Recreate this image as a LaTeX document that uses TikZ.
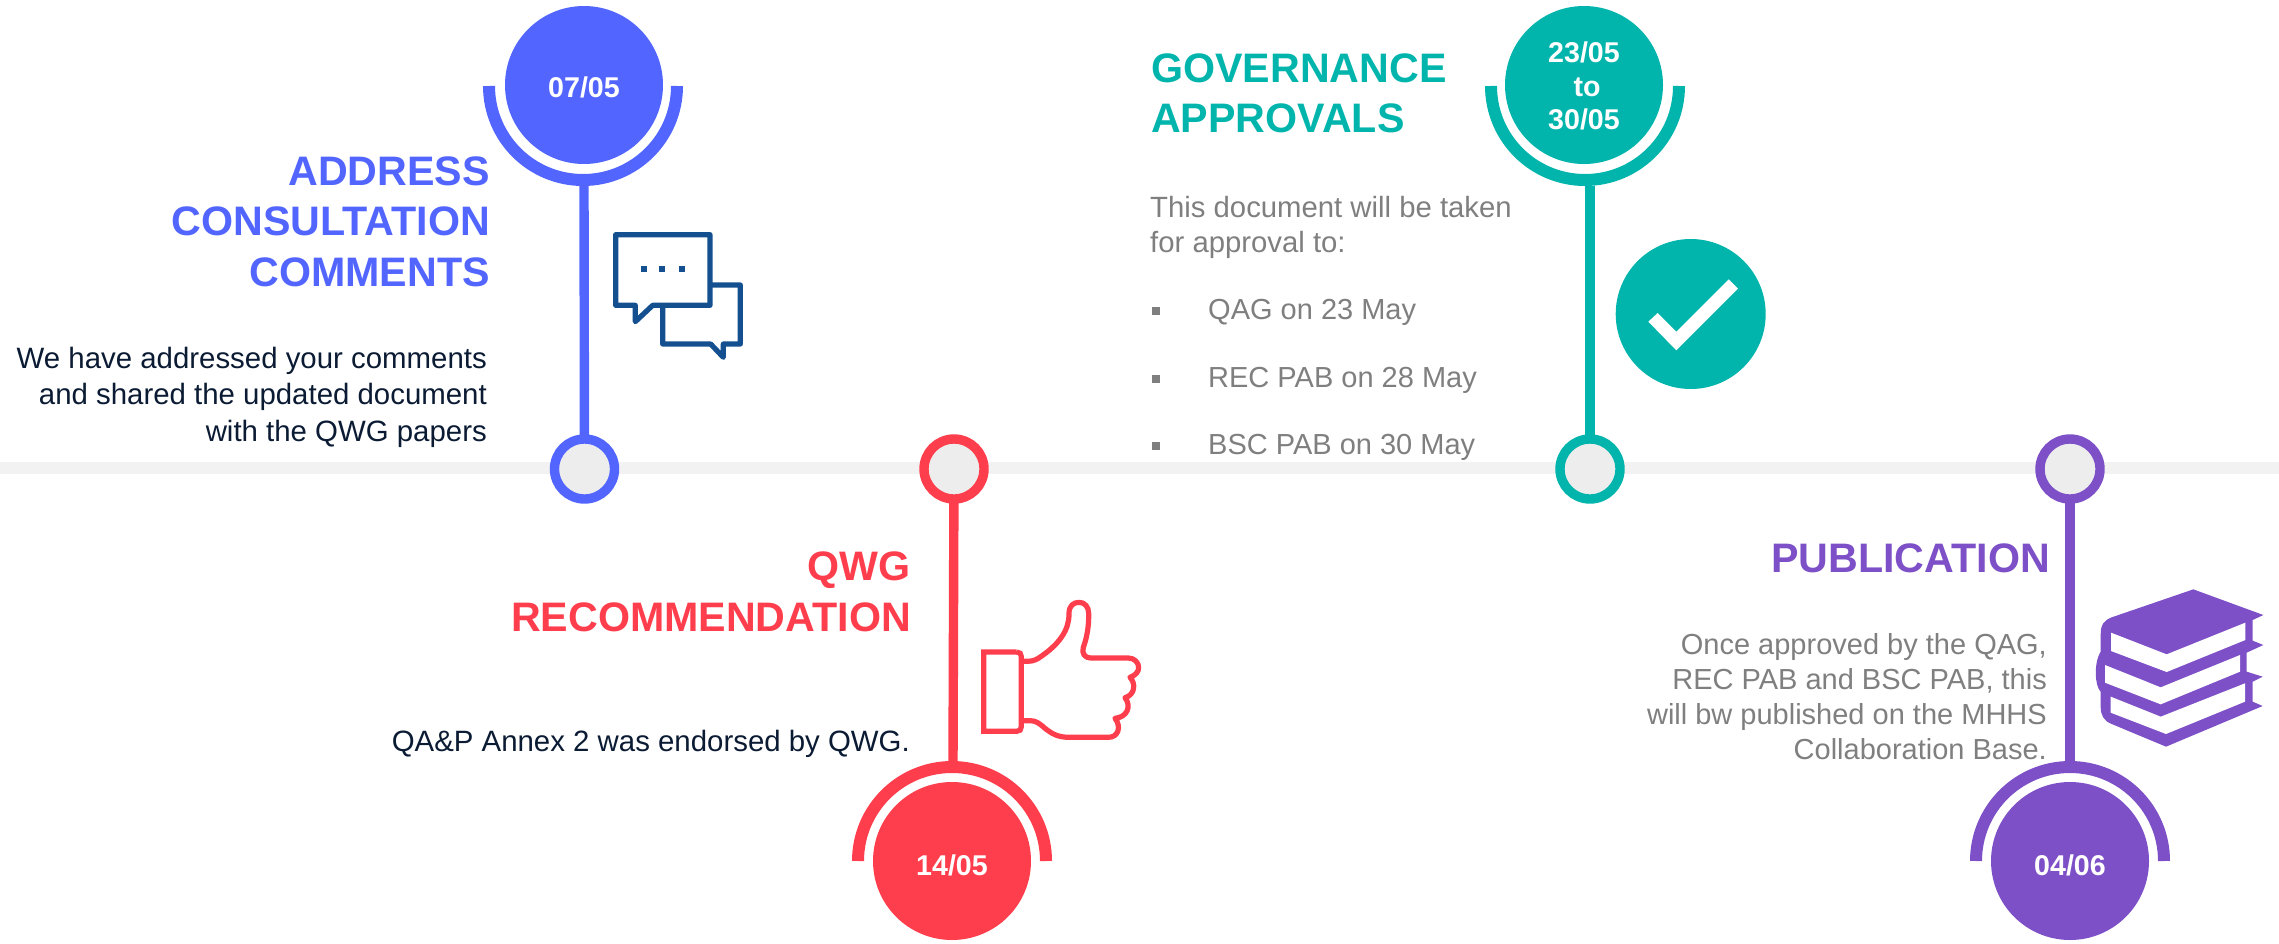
\documentclass[tikz,border=0pt]{standalone}
\usepackage{fontspec}
\setmainfont{Liberation Sans}
\definecolor{cblue}{HTML}{5265FF}
\definecolor{cred}{HTML}{FF3E4D}
\definecolor{cteal}{HTML}{02B5AC}
\definecolor{cpurple}{HTML}{7D50C7}
\definecolor{cgrey}{HTML}{7F7F7F}
\definecolor{cdark}{HTML}{0B1B33}
\definecolor{cicon}{HTML}{14508F}
\tikzset{
  dot/.style={circle,draw=#1,fill=black!7,line width=9.4pt,minimum size=60pt,inner sep=0pt,outer sep=0pt},
  bigdate/.style={circle,fill=#1,text=white,minimum size=158pt,inner sep=0pt,outer sep=0pt,align=center,font=\fontsize{28.6}{33.5}\selectfont\bfseries},
  stem/.style={draw=#1,line width=9.4pt},
  cradle/.style={draw=#1,line width=12pt},
  ttl/.style={text=#1,inner sep=0pt,font=\fontsize{41.2}{50.5}\selectfont\bfseries},
  bodytxt/.style={text=#1,inner sep=0pt,font=\fontsize{29}{36}\selectfont},
  darktxt/.style={text=cdark,inner sep=0pt,font=\fontsize{29.4}{36.5}\selectfont},
  pubtxt/.style={text=cgrey,inner sep=0pt,font=\fontsize{29}{35}\selectfont},
  bulletbox/.style={fill=cgrey,minimum size=8pt,inner sep=0pt},
  iconline/.style={draw=#1,line width=5.2pt,line join=round,fill=none}
}
\begin{document}
\begin{tikzpicture}[x=1pt,y=-1pt]
\path[use as bounding box] (0,0) rectangle (2279,943);
\coordinate (bandL) at (0,468);
\coordinate (bandR) at (2279,468);
\draw[draw=black!5,line width=12pt] (bandL) -- (bandR);

\coordinate (cbA) at (584,186);
\coordinate (cbB) at (953,762);
\coordinate (cbC) at (1590,186);
\coordinate (cbD) at (2070,762);

\node[dot=cblue] (dotA) at (584.5,469) {};
\node[dot=cred] (dotB) at (954,469) {};
\node[dot=cteal] (dotC) at (1590,469) {};
\node[dot=cpurple] (dotD) at (2070,469) {};

\draw[stem=cblue] (dotA) -- (cbA);
\draw[stem=cred] (dotB) -- (cbB);
\draw[stem=cteal] (dotC) -- (cbC);
\draw[stem=cpurple] (dotD) -- (cbD);

\draw[cradle=cblue] (489,86) arc[start angle=180,end angle=0,radius=94];
\draw[cradle=cteal] (1491,86) arc[start angle=180,end angle=0,radius=94];
\draw[cradle=cred] (858,861) arc[start angle=180,end angle=360,radius=94];
\draw[cradle=cpurple] (1976,861) arc[start angle=180,end angle=360,radius=94];

\node[bigdate=cblue] (dateA) at (584,85) {\rule{0pt}{26pt}07/05};
\node[bigdate=cteal] (dateC) at (1584,85) {\rule{0pt}{23pt}23/05\\\hspace*{6pt}to\\30/05};
\node[bigdate=cred] (dateB) at (952,861) {\rule{0pt}{29pt}14/05};
\node[bigdate=cpurple] (dateD) at (2070,861) {\rule{0pt}{29pt}04/06};

\node[ttl=cblue,align=right,anchor=east] (titleA) at (490,221.5) {ADDRESS\\CONSULTATION\\COMMENTS};
\node[ttl=cred,align=right,anchor=east] (titleB) at (911,592) {QWG\\RECOMMENDATION};
\node[ttl=cteal,align=left,anchor=west] (titleC) at (1151,93.5) {GOVERNANCE\\APPROVALS};
\node[ttl=cpurple,anchor=east] (titleD) at (2050,558) {PUBLICATION};

\node[darktxt,align=right,anchor=east] (bodyA) at (487,397) {We have addressed your comments\\and shared the updated document\\with the QWG papers};
\node[darktxt,anchor=east] (bodyB) at (910,744) {QA\&P Annex 2 was endorsed by QWG.};
\node[bodytxt=cgrey,align=left,anchor=west,font=\fontsize{29.3}{35}\selectfont] (bodyC) at (1150,227) {This document will be taken\\for approval to:};
\node[pubtxt,align=right,anchor=east] (bodyD) at (2047,697) {Once approved by the QAG,\\REC PAB and BSC PAB, this\\will bw published on the MHHS\\Collaboration Base.};

\node[bulletbox] (bulA) at (1156,311) {};
\node[bulletbox] (bulB) at (1156,378.5) {};
\node[bulletbox] (bulC) at (1156,446) {};
\node[bodytxt=cgrey,anchor=west] (itemA) at (1208,312) {QAG on 23 May};
\node[bodytxt=cgrey,anchor=west] (itemB) at (1208,380) {REC PAB on 28 May};
\node[bodytxt=cgrey,anchor=west] (itemC) at (1208,447) {BSC PAB on 30 May};

\node[circle,fill=cteal,minimum size=150pt,inner sep=0pt] (check) at (1690.7,314) {};
\begin{scope}[shift={(1450,0)},scale=1/3]
\fill[white] (595,965) -- (623,939) -- (679,995) -- (836,838) -- (864,866) -- (679,1051) -- cycle;
\end{scope}

\begin{scope}[shift={(450,0)},scale=1/3]
\draw[iconline=cicon] (497,704) -- (780,704) -- (780,916) -- (608,916) -- (556,965) -- (556,916) -- (497,916) -- cycle;
\draw[iconline=cicon] (780,855) -- (871,855) -- (871,1032) -- (820,1032) -- (820,1072) -- (782,1032) -- (638,1032) -- (638,916);
\fill[cicon] (573,797) rectangle (591,815);
\fill[cicon] (627,797) rectangle (645,815);
\fill[cicon] (687,797) rectangle (705,815);
\end{scope}

\begin{scope}[shift={(950,560)},scale=1/3]
\draw[iconline=cred,line join=miter] (200,276) -- (101,276) -- (101,514) -- (200,514) .. controls (209,514) and (214,509) .. (214,500) -- (214,290) .. controls (214,281) and (209,276) .. (200,276);
\draw[iconline=cred] (214,304) -- (232,304) .. controls (250,304) and (262,298) .. (275,288)
  .. controls (330,250) and (358,208) .. (357,160)
  .. controls (357,138) and (370,127) .. (387,127)
  .. controls (404,127) and (416,140) .. (416,160)
  .. controls (417,200) and (410,235) .. (400,262)
  .. controls (394,280) and (405,294) .. (422,294)
  -- (535,294)
  .. controls (553,294) and (566,308) .. (566,322)
  .. controls (566,335) and (558,345) .. (540,352)
  .. controls (558,370) and (555,405) .. (525,413)
  .. controls (546,440) and (530,472) .. (495,475)
  .. controls (515,500) and (505,532) .. (475,532)
  -- (360,532)
  .. controls (320,532) and (305,520) .. (285,505)
  .. controls (268,490) and (258,482) .. (240,482)
  -- (214,482);
\end{scope}

\begin{scope}[shift={(2060,570)},scale=1/3]
\fill[cpurple] (400,58) -- (610,135) -- (578,150) -- (578,212) -- (610,225) -- (560,248) -- (560,305) -- (608,320) -- (578,335) -- (578,395) -- (608,408) -- (318,530) -- (155,462)
 .. controls (130,452) and (122,435) .. (122,410) -- (122,365)
 .. controls (105,350) and (100,280) .. (122,245) -- (122,195)
 .. controls (122,165) and (130,152) .. (155,142) -- cycle;
\fill[white] (153,188) -- (320,253) -- (556,158) -- (556,210) -- (320,306) -- (153,243) -- cycle;
\fill[white] (135,285) -- (302,352) -- (540,255) -- (540,305) -- (302,403) -- (135,338) -- cycle;
\fill[white] (152,380) -- (302,440) -- (555,340) -- (555,395) -- (318,492) -- (152,428) -- cycle;
\end{scope}
\end{tikzpicture}
\end{document}
